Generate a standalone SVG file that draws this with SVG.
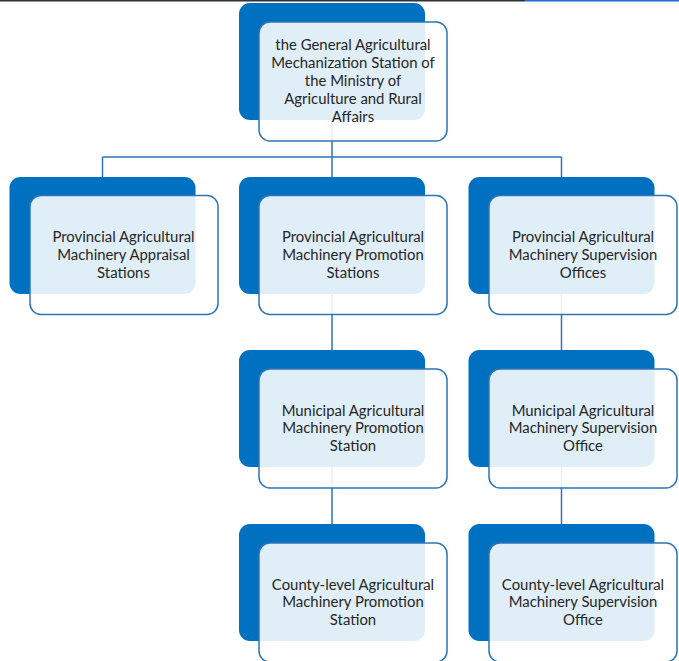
<svg xmlns="http://www.w3.org/2000/svg" width="679" height="661" viewBox="0 0 679 661">
<style>
.bg{fill:#ffffff}
.dark{fill:#0070c0}
.light{fill:#ffffff;fill-opacity:0.88;stroke:#2e75b6;stroke-width:1.5}
.conn{stroke:#2e75b6;stroke-width:1.5;fill:none}
text{font-family:Lato,"Liberation Sans",sans-serif;font-size:14.9px;fill:#262626;text-anchor:middle}
</style>
<rect class="bg" x="0" y="0" width="679" height="661"/>
<rect x="0" y="0" width="525" height="1.5" fill="#2f3336"/>
<rect x="525" y="0" width="154" height="1.5" fill="#1f6fd1"/>
<g id="connectors">
<path class="conn" d="M332 120 V157 M102.5 157 H561.5 M102.5 157 V177 M332 157 V177 M561.5 157 V177"/>
<path class="conn" d="M332 294 V350 M332 467 V524"/>
<path class="conn" d="M561.5 294 V350 M561.5 467 V524"/>
</g>
<g id="n0">
<rect class="dark" x="239" y="3" width="186" height="117" rx="11"/>
<rect class="light" x="259" y="22" width="188" height="119" rx="11"/>
<text x="353" y="50.4">the General Agricultural</text>
<text x="353" y="68.2">Mechanization Station of</text>
<text x="353" y="86">the Ministry of</text>
<text x="353" y="103.8">Agriculture and Rural</text>
<text x="353" y="121.6">Affairs</text>
</g>
<g id="n1">
<rect class="dark" x="9.5" y="177" width="186" height="117" rx="11"/>
<rect class="light" x="30" y="195.5" width="188" height="119" rx="11"/>
<text x="123.5" y="242">Provincial Agricultural</text>
<text x="123.5" y="259.8">Machinery Appraisal</text>
<text x="123.5" y="277.6">Stations</text>
</g>
<g id="n2">
<rect class="dark" x="239" y="177" width="186" height="117" rx="11"/>
<rect class="light" x="259" y="195.5" width="188" height="119" rx="11"/>
<text x="353" y="242">Provincial Agricultural</text>
<text x="353" y="259.8">Machinery Promotion</text>
<text x="353" y="277.6">Stations</text>
</g>
<g id="n3">
<rect class="dark" x="468.5" y="177" width="186" height="117" rx="11"/>
<rect class="light" x="489" y="195.5" width="188" height="119" rx="11"/>
<text x="583" y="242">Provincial Agricultural</text>
<text x="583" y="259.8">Machinery Supervision</text>
<text x="583" y="277.6">Offices</text>
</g>
<g id="n4">
<rect class="dark" x="239" y="350" width="186" height="117" rx="11"/>
<rect class="light" x="259" y="369" width="188" height="119" rx="11"/>
<text x="353" y="415.5">Municipal Agricultural</text>
<text x="353" y="433.3">Machinery Promotion</text>
<text x="353" y="451.1">Station</text>
</g>
<g id="n5">
<rect class="dark" x="468.5" y="350" width="186" height="117" rx="11"/>
<rect class="light" x="489" y="369" width="188" height="119" rx="11"/>
<text x="583" y="415.5">Municipal Agricultural</text>
<text x="583" y="433.3">Machinery Supervision</text>
<text x="583" y="451.1">Office</text>
</g>
<g id="n6">
<rect class="dark" x="239" y="524" width="186" height="117" rx="11"/>
<rect class="light" x="259" y="543" width="188" height="119" rx="11"/>
<text x="353" y="589.5">County-level Agricultural</text>
<text x="353" y="607.3">Machinery Promotion</text>
<text x="353" y="625.1">Station</text>
</g>
<g id="n7">
<rect class="dark" x="468.5" y="524" width="186" height="117" rx="11"/>
<rect class="light" x="489" y="543" width="188" height="119" rx="11"/>
<text x="583" y="589.5">County-level Agricultural</text>
<text x="583" y="607.3">Machinery Supervision</text>
<text x="583" y="625.1">Office</text>
</g>
</svg>
